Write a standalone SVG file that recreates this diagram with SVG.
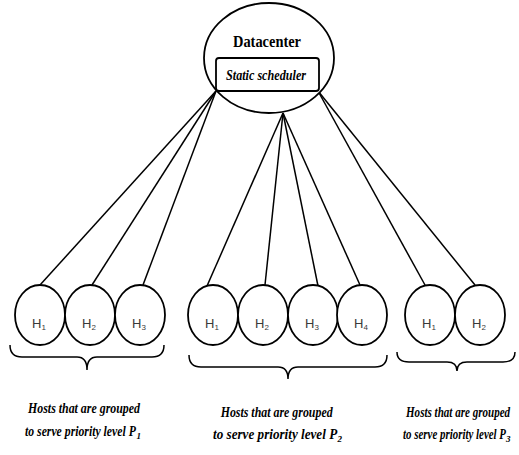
<svg xmlns="http://www.w3.org/2000/svg" width="519" height="455" viewBox="0 0 519 455">
<style>
.ln{stroke:#000;stroke-width:1.5;fill:none}
.host{fill:#fff;stroke:#000;stroke-width:1.8}
.brace{fill:none;stroke:#000;stroke-width:1.5}
.h{font-family:"Liberation Sans",Arial,sans-serif;font-size:13px;fill:#3a3a3a;text-anchor:middle}
.cap{font-family:"Liberation Serif","Times New Roman",serif;font-style:italic;font-weight:bold;font-size:14px;fill:#000}
.sub{font-family:"Liberation Serif","Times New Roman",serif;font-style:italic;font-weight:bold;font-size:9px;fill:#000}
</style>
<rect width="519" height="455" fill="#fff"/>
<g id="connectors">
<line class="ln" x1="216" y1="91" x2="40" y2="285"/>
<line class="ln" x1="216" y1="91" x2="92" y2="285"/>
<line class="ln" x1="216" y1="91" x2="143" y2="285"/>
<line class="ln" x1="283" y1="113" x2="207" y2="286"/>
<line class="ln" x1="283" y1="113" x2="265" y2="285"/>
<line class="ln" x1="283" y1="113" x2="318" y2="286"/>
<line class="ln" x1="283" y1="113" x2="360" y2="285"/>
<line class="ln" x1="318" y1="91" x2="425" y2="285"/>
<line class="ln" x1="318" y1="91" x2="475" y2="285"/>
</g>
<g id="datacenter">
<ellipse cx="269" cy="58" rx="65" ry="55" fill="#fff" stroke="#000" stroke-width="1.8"/>
<text x="267" y="47" font-family="'Liberation Serif','Times New Roman',serif" font-weight="bold" font-size="16" text-anchor="middle" textLength="68" lengthAdjust="spacingAndGlyphs">Datacenter</text>
<rect x="216" y="58" width="103" height="33" rx="3" fill="#fff" stroke="#000" stroke-width="1.8"/>
<text x="266" y="80" font-family="'Liberation Serif','Times New Roman',serif" font-style="italic" font-weight="bold" font-size="14" text-anchor="middle" textLength="80" lengthAdjust="spacingAndGlyphs">Static scheduler</text>
</g>
<g id="g1-h1"><ellipse class="host" cx="40" cy="315" rx="25" ry="30"/><text class="h" x="39" y="328">H<tspan font-size="8" dy="2">1</tspan></text></g>
<g id="g1-h2"><ellipse class="host" cx="90" cy="315" rx="25" ry="30"/><text class="h" x="89" y="328">H<tspan font-size="8" dy="2">2</tspan></text></g>
<g id="g1-h3"><ellipse class="host" cx="140" cy="315" rx="25" ry="30"/><text class="h" x="139" y="328">H<tspan font-size="8" dy="2">3</tspan></text></g>
<g id="g2-h1"><ellipse class="host" cx="213" cy="315" rx="25" ry="30"/><text class="h" x="212" y="328">H<tspan font-size="8" dy="2">1</tspan></text></g>
<g id="g2-h2"><ellipse class="host" cx="263" cy="315" rx="25" ry="30"/><text class="h" x="262" y="328">H<tspan font-size="8" dy="2">2</tspan></text></g>
<g id="g2-h3"><ellipse class="host" cx="313" cy="315" rx="25" ry="30"/><text class="h" x="312" y="328">H<tspan font-size="8" dy="2">3</tspan></text></g>
<g id="g2-h4"><ellipse class="host" cx="362" cy="315" rx="25" ry="30"/><text class="h" x="361" y="328">H<tspan font-size="8" dy="2">4</tspan></text></g>
<g id="g3-h1"><ellipse class="host" cx="430" cy="315" rx="25" ry="30"/><text class="h" x="429" y="328">H<tspan font-size="8" dy="2">1</tspan></text></g>
<g id="g3-h2"><ellipse class="host" cx="480" cy="315" rx="25" ry="30"/><text class="h" x="479" y="328">H<tspan font-size="8" dy="2">2</tspan></text></g>
<g id="braces">
<path class="brace" d="M10 345 Q10 357 22 357 L77 357 Q87 357 87 370 Q87 357 97 357 L152 357 Q164 357 164 345"/>
<path class="brace" d="M189 355 Q189 367 201 367 L278 367 Q288 367 288 379 Q288 367 298 367 L375 367 Q387 367 387 355"/>
<path class="brace" d="M397 352 Q397 362 409 362 L447 362 Q457 362 457 371 Q457 362 467 362 L503 362 Q515 362 515 352"/>
</g>
<g id="label1">
<text class="cap" transform="translate(28 413) scale(0.85 1)">Hosts that are grouped</text>
<text class="cap" transform="translate(25 436) scale(0.84 1)">to serve priority level P</text>
<text class="sub" x="136.5" y="439">1</text>
</g>
<g id="label2">
<text class="cap" transform="translate(213 417) scale(0.85 1)" dx="9">Hosts that are grouped</text>
<text class="cap" transform="translate(213 439) scale(0.94 1)">to serve priority level P</text>
<text class="sub" x="337.5" y="442">2</text>
</g>
<g id="label3">
<text class="cap" transform="translate(406 417) scale(0.79 1)">Hosts that are grouped</text>
<text class="cap" transform="translate(403 439) scale(0.78 1)">to serve priority level P</text>
<text class="sub" x="506" y="442">3</text>
</g>
</svg>
